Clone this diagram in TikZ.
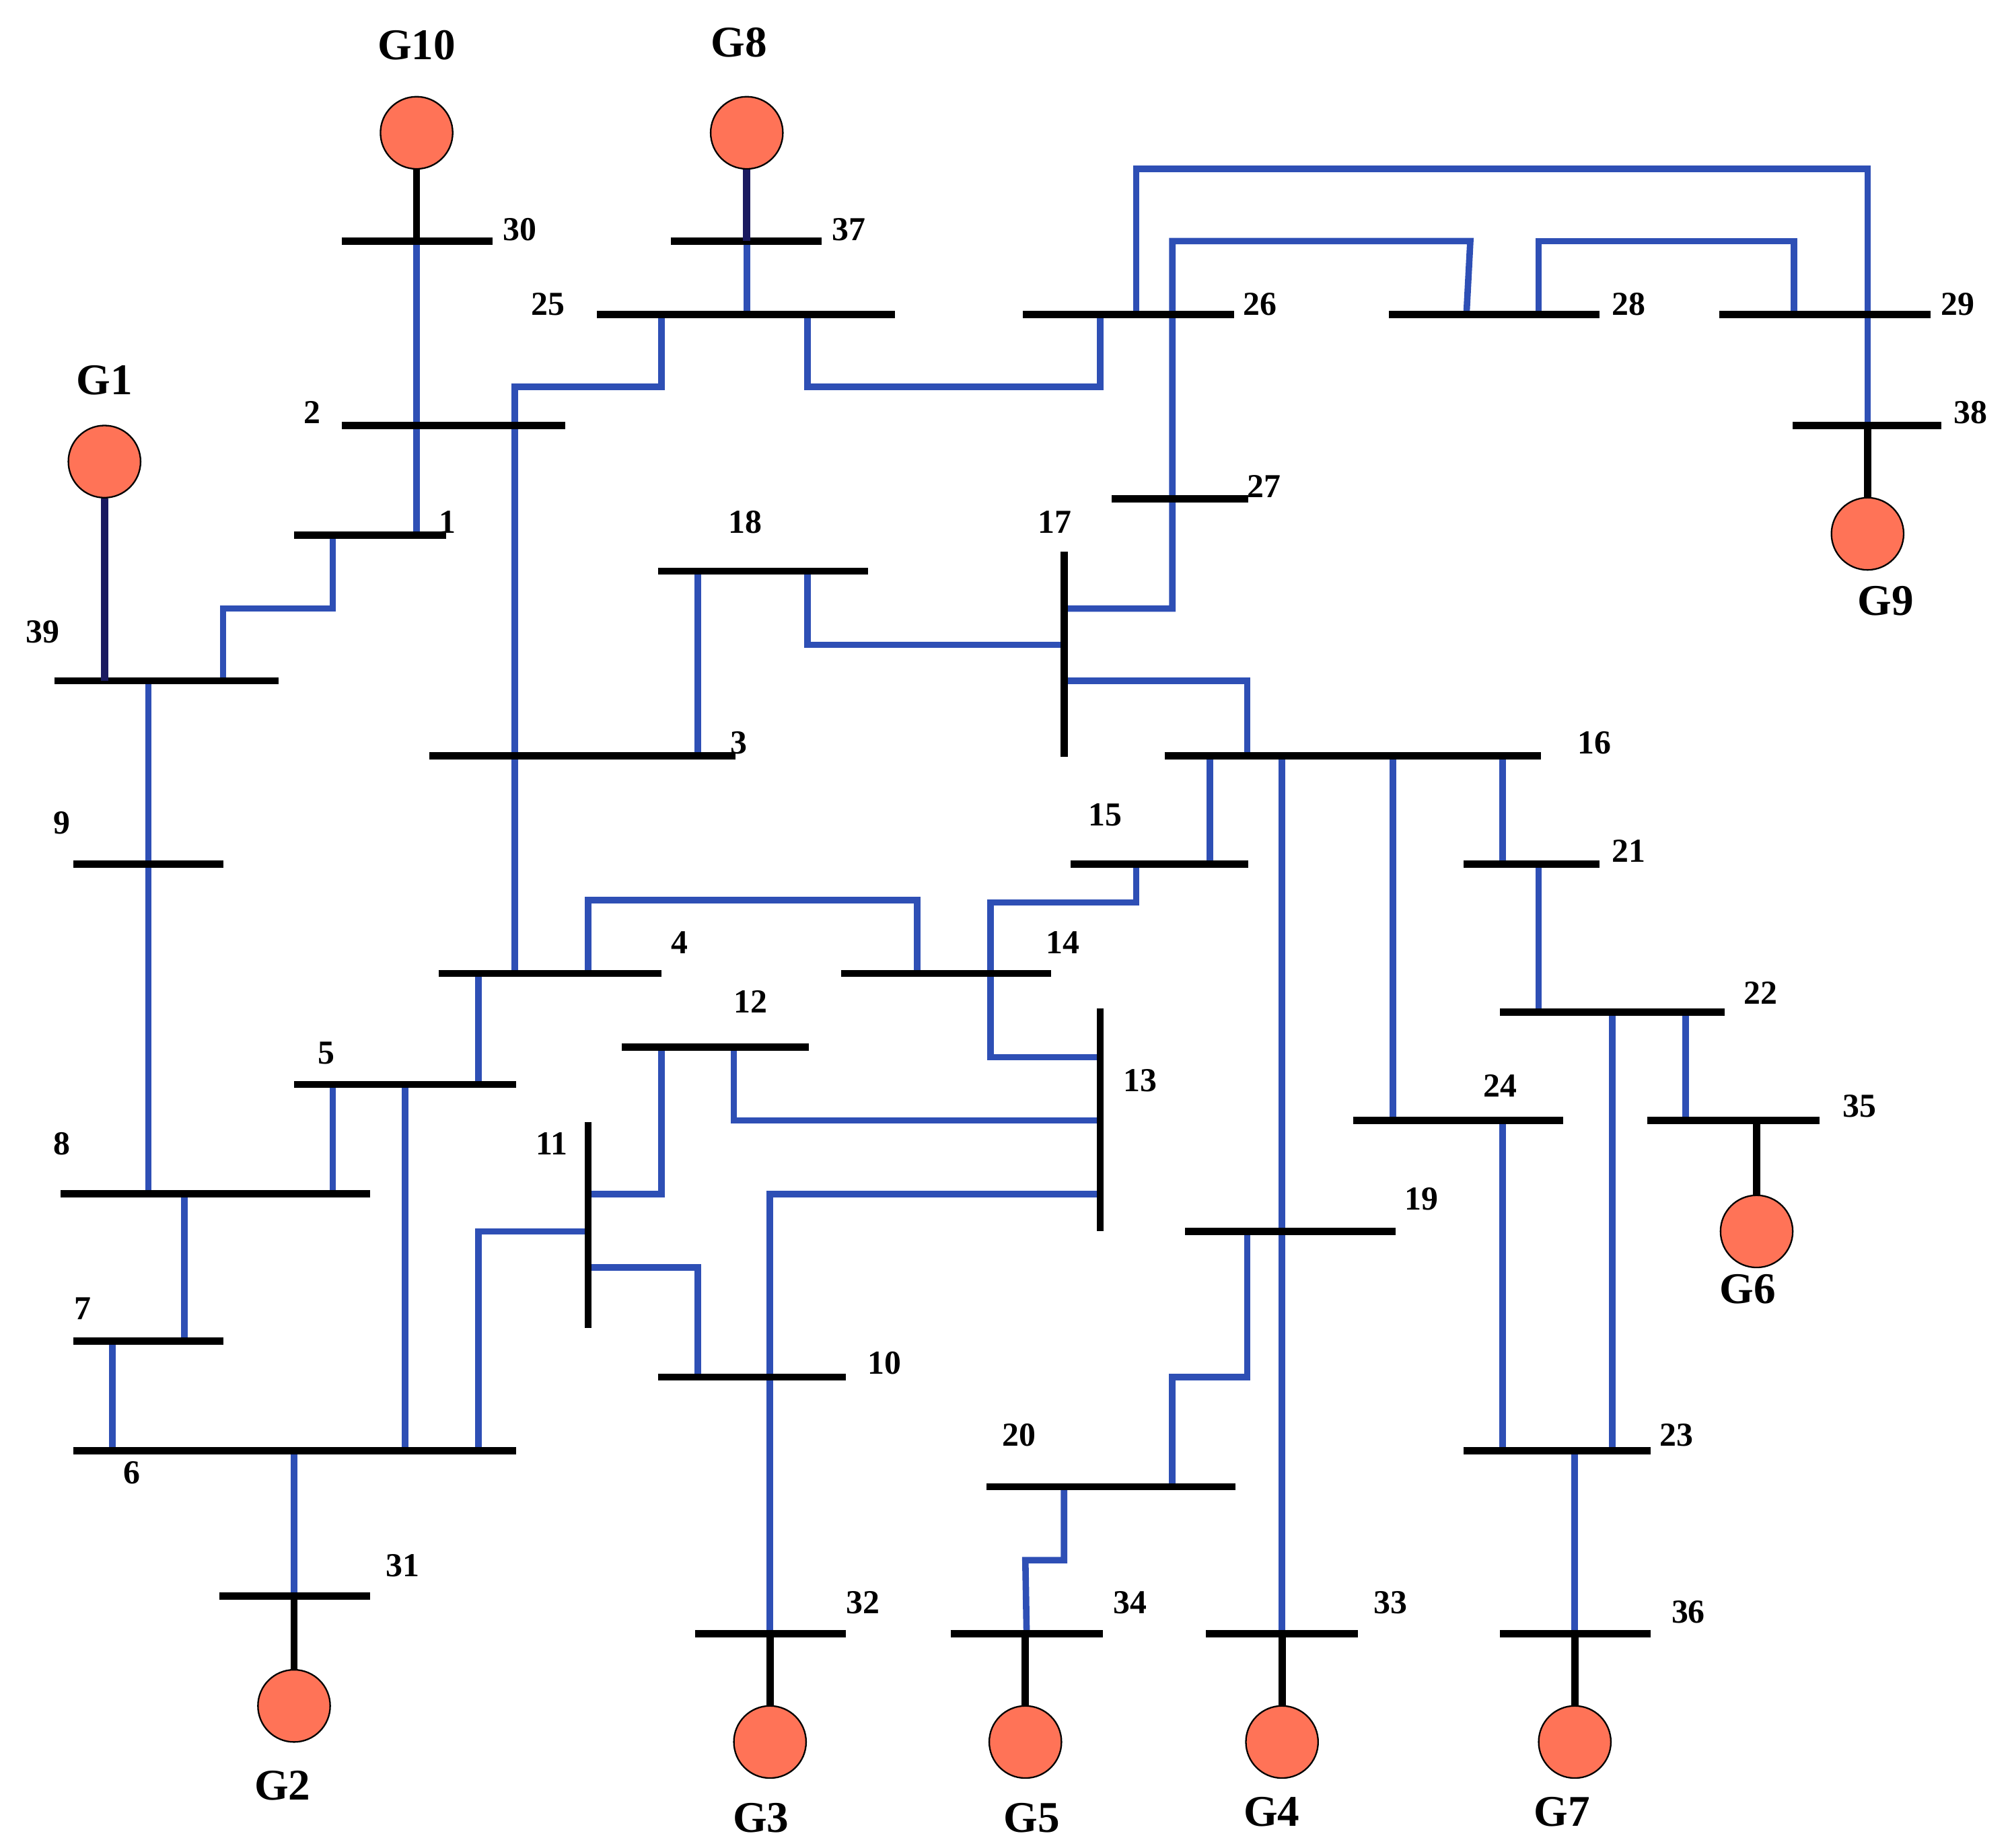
\documentclass[tikz,border=0pt]{standalone}
\usepackage{fontspec}
\setmainfont{Liberation Serif}
\begin{document}
\begin{tikzpicture}[x=0.5pt,y=-0.5pt,
  bus/.style={line width=2.8pt,black},
  ln/.style={line width=2.5pt,color=lblue},
  stub/.style={line width=2.8pt,black},
  nstub/.style={line width=2.8pt,color=navy},
  gen/.style={circle,draw=black,line width=0.6pt,fill=gfill,minimum size=28pt,inner sep=0pt},
  num/.style={font=\bfseries\fontsize{13}{13}\selectfont},
  glab/.style={font=\bfseries\fontsize{17}{17}\selectfont}]
\definecolor{lblue}{HTML}{2E4FB5}
\definecolor{navy}{HTML}{1A1A60}
\definecolor{gfill}{HTML}{FF7357}
\useasboundingbox (0,0) rectangle (1560,1433);
% blue lines
\draw[ln] (323,187) -- (323,415);
\draw[ln] (579,187) -- (579,244);
\draw[ln] (258,415) -- (258,472) -- (173,472) -- (173,528);
\draw[ln] (115,528) -- (115,926);
\draw[ln] (513,244) -- (513,300) -- (399,300) -- (399,755);
\draw[ln] (626,244) -- (626,300) -- (853,300) -- (853,244);
\draw[ln] (881,244) -- (881,131) -- (1448,131) -- (1448,330);
\draw[ln] (825,472) -- (909,472) -- (909,187) -- (1140,187) -- (1137,244);
\draw[ln] (1193,244) -- (1193,187) -- (1391,187) -- (1391,244);
\draw[ln] (541,443) -- (541,586);
\draw[ln] (626,443) -- (626,500) -- (825,500);
\draw[ln] (825,528) -- (967,528) -- (967,586);
\draw[ln] (938,586) -- (938,670);
\draw[ln] (994,586) -- (994,1267);
\draw[ln] (1080,586) -- (1080,869);
\draw[ln] (1165,586) -- (1165,670);
\draw[ln] (1193,670) -- (1193,785);
\draw[ln] (1307,785) -- (1307,869);
\draw[ln] (1250,785) -- (1250,1125);
\draw[ln] (1165,869) -- (1165,1125);
\draw[ln] (1221,1125) -- (1221,1267);
\draw[ln] (881,670) -- (881,700) -- (768,700) -- (768,820) -- (853,820);
\draw[ln] (456,755) -- (456,698) -- (711,698) -- (711,755);
\draw[ln] (371,755) -- (371,841);
\draw[ln] (258,841) -- (258,926);
\draw[ln] (314,841) -- (314,1125);
\draw[ln] (143,926) -- (143,1040);
\draw[ln] (87,1040) -- (87,1125);
\draw[ln] (228,1125) -- (228,1238);
\draw[ln] (371,1125) -- (371,955) -- (456,955);
\draw[ln] (456,926) -- (513,926) -- (513,812);
\draw[ln] (569,812) -- (569,869) -- (853,869);
\draw[ln] (456,983) -- (541,983) -- (541,1068);
\draw[ln] (853,926) -- (597,926) -- (597,1267);
\draw[ln] (967,955) -- (967,1068) -- (909,1068) -- (909,1153);
\draw[ln] (825,1153) -- (825,1210) -- (795,1210) -- (796,1267);
% buses
\foreach \a/\b/\y in {265/382/187,520/637/187,463/694/244,793/957/244,1077/1240/244,1333/1497/244,
 1390/1505/330,265/438/330,228/346/415,42/216/528,510/673/443,862/968/387,333/570/586,903/1195/586,
 830/968/670,1135/1240/670,57/173/670,340/513/755,652/815/755,1163/1337/785,482/627/812,228/400/841,
 1049/1212/869,1277/1411/869,47/287/926,919/1082/955,57/173/1040,510/656/1068,57/400/1125,765/958/1153,
 1135/1280/1125,170/287/1238,539/656/1267,737/855/1267,935/1053/1267,1163/1280/1267}
 \draw[bus] (\a,\y) -- (\b,\y);
\draw[bus] (825,428) -- (825,587);
\draw[bus] (853,782) -- (853,955);
\draw[bus] (456,870) -- (456,1030);
% generators
\node[gen] (g10) at (323,103) {};
\node[gen] (g8) at (579,103) {};
\node[gen] (g1) at (81,358) {};
\node[gen] (g9) at (1448,414) {};
\node[gen] (g6) at (1362,955) {};
\node[gen] (g2) at (228,1323) {};
\node[gen] (g3) at (597,1351) {};
\node[gen] (g5) at (795,1351) {};
\node[gen] (g4) at (994,1351) {};
\node[gen] (g7) at (1221,1351) {};
\coordinate (b30) at (323,187); \coordinate (b37) at (579,187); \coordinate (b39) at (81,528);
\coordinate (b38) at (1448,330); \coordinate (b35) at (1362,869); \coordinate (b31) at (228,1238);
\coordinate (b32) at (597,1267); \coordinate (b34) at (795,1267); \coordinate (b33) at (994,1267);
\coordinate (b36) at (1221,1267);
\draw[stub] (g10) -- (b30);
\draw[nstub] (g8) -- (b37);
\draw[nstub] (g1) -- (b39);
\draw[stub] (g9) -- (b38);
\draw[stub] (g6) -- (b35);
\draw[stub] (g2) -- (b31);
\draw[stub] (g3) -- (b32);
\draw[stub] (g5) -- (b34);
\draw[stub] (g4) -- (b33);
\draw[stub] (g7) -- (b36);
% generator labels
\foreach \t/\x/\y in {G10/323/35,G8/573/33,G1/81/295,G9/1462/466,G6/1355/1000,G2/219/1385,G3/590/1410,G5/800/1410,G4/986/1405,G7/1211/1405}
 \node[glab] (l\t) at (\x,\y) {\t};
% bus labels
\foreach \t/\x/\y in {30/403/178,37/658/178,25/425/236,26/977/236,28/1263/236,29/1518/236,38/1528/320,
 2/242/320,1/347/405,39/33/490,18/578/405,17/818/405,27/980/377,3/573/576,16/1236/576,15/857/632,
 21/1263/660,9/48/638,4/527/731,14/824/731,22/1365/770,12/582/777,13/884/838,5/253/817,24/1163/842,
 35/1442/858,8/48/887,11/428/887,19/1102/930,7/64/1015,10/686/1057,6/102/1142,20/790/1113,23/1300/1113,
 31/312/1214,32/669/1243,34/876/1243,33/1078/1243,36/1309/1250}
 \node[num] (n\t) at (\x,\y) {\t};
\end{tikzpicture}
\end{document}
